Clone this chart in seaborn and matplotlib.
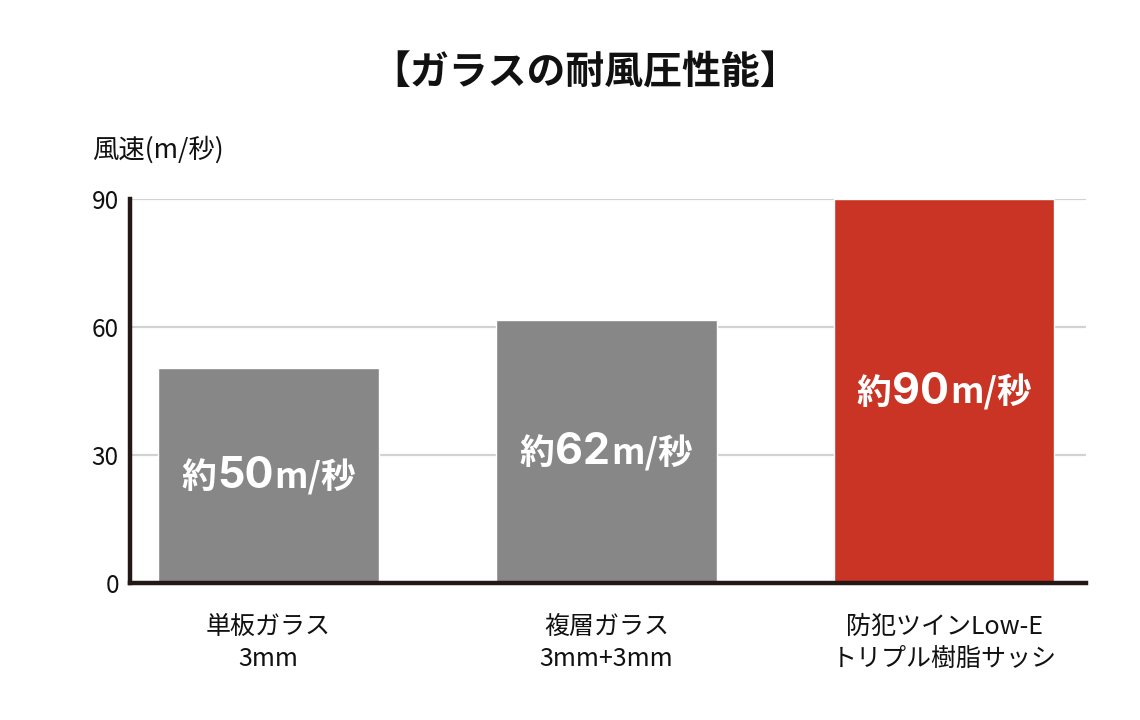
import matplotlib
matplotlib.use("Agg")
import matplotlib.pyplot as plt
import seaborn as sns
import pandas as pd

categories = ["単板ガラス\n3mm", "複層ガラス\n3mm+3mm", "防犯ツインLow-E\nトリプル樹脂サッシ"]
values = [50.4, 61.6, 90]
label_numbers = ["50", "62", "90"]
bar_colors = ["#878787", "#878787", "#c93424"]
yticks = [0, 30, 60, 90]
title = "【ガラスの耐風圧性能】"
ylabel = "風速(m/秒)"

sns.set_theme(style="white")
plt.rcParams['font.family'] = ['Noto Sans CJK JP', 'DejaVu Sans']

df = pd.DataFrame({"cat": categories, "val": values})

fig = plt.figure(figsize=(11.4, 7.2), dpi=100)
ax = fig.add_axes([130/1140, 1-583/720, (1086-130)/1140, (583-199)/720])

ax.set_axisbelow(True)
for yv in yticks[1:]:
    ax.axhline(yv, color="#d2d2d2", lw=1.6, zorder=0)

sns.barplot(data=df, x="cat", y="val", hue="cat", palette=bar_colors,
            width=0.653, saturation=1, legend=False, ax=ax, zorder=2)

ax.set_xlim(-0.41, 2.42)
ax.set_ylim(0, 90)
ax.set_yticks(yticks)
ax.set_yticklabels([str(t) for t in yticks], fontsize=17.5, color="#111111")
ax.tick_params(axis="y", length=0, pad=8)
ax.tick_params(axis="x", length=0, pad=22, labelsize=18, colors="#111111")
ax.set_xlabel("")
ax.set_ylabel("")
for lbl in ax.get_xticklabels():
    lbl.set_linespacing(1.3)

for s in ["top", "right"]:
    ax.spines[s].set_visible(False)
for s in ["left", "bottom"]:
    ax.spines[s].set_color("#231815")
    ax.spines[s].set_linewidth(3.2)
    ax.spines[s].set_zorder(3)

fig.text(585/1140, 1-73/720, title, ha="center", va="center",
         fontsize=28, fontweight="bold", color="#111111")
fig.text(92/1140, 1-150/720, ylabel, ha="left", va="center",
         fontsize=19, color="#111111")

# value labels: 約 + number + m/秒, centred as a group on each bar
groups = []
for i, (v, num) in enumerate(zip(values, label_numbers)):
    y = v / 2 - 3.0
    kw = dict(xy=(i, y), xycoords="data", textcoords="offset pixels",
              va="baseline", ha="left", color="white", zorder=4)
    a1 = ax.annotate("約", xytext=(0, 0), fontsize=25, fontweight="bold", **kw)
    a2 = ax.annotate(num, xytext=(0, 0), fontsize=31, fontweight="bold",
                     family=["Inter", "Noto Sans CJK JP"], **kw)
    a3 = ax.annotate("m/秒", xytext=(0, 0), fontsize=25, fontweight="bold", **kw)
    groups.append((a1, a2, a3))

fig.canvas.draw()
r = fig.canvas.get_renderer()
gap = 1.0
for a1, a2, a3 in groups:
    w1 = a1.get_window_extent(r).width
    w2 = a2.get_window_extent(r).width
    w3 = a3.get_window_extent(r).width
    W = w1 + w2 + w3 + 2 * gap
    x0 = -W / 2
    a1.xyann = (x0, 0)
    a2.xyann = (x0 + w1 + gap, 0)
    a3.xyann = (x0 + w1 + w2 + 2 * gap, 0)

fig.savefig("out.png", dpi=100, facecolor="white")
